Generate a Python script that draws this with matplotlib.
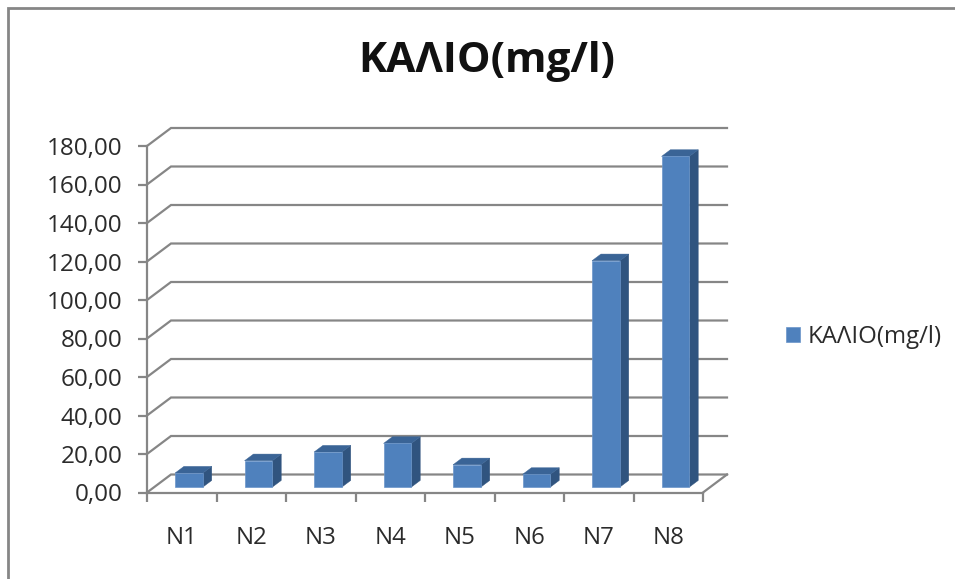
import matplotlib
matplotlib.use('Agg')
import matplotlib.pyplot as plt
from matplotlib.patches import Polygon, Patch, Rectangle

plt.rcParams['font.family'] = ['Open Sans', 'DejaVu Sans']

title = 'ΚΑΛΙΟ(mg/l)'
categories = ['N1', 'N2', 'N3', 'N4', 'N5', 'N6', 'N7', 'N8']
values = [7.3, 13.7, 18.2, 22.7, 11.6, 6.6, 117.6, 171.8]
y_ticks = [0, 20, 40, 60, 80, 100, 120, 140, 160, 180]

W, H = 955, 579
GRID = '#868686'
TEXT = '#2b2b2b'
FRONT = '#4f81bd'
EDGE = '#6b95c9'
SIDE = '#30547f'
TOP = '#3a6496'

fig = plt.figure(figsize=(W / 100, H / 100), dpi=100)

# outer chart border, runs off the right and bottom of the figure
fig.add_artist(Rectangle((7.5 / W, -0.1), 1.2, 1.1 - 8.5 / H, transform=fig.transFigure,
                         fill=False, ec=GRID, lw=2))

ax = fig.add_axes([147 / W, 1 - 492.5 / H, 556 / W, 346.5 / H])
ax.set_xlim(0, len(categories))
ax.set_ylim(0, 180)
ax.patch.set_visible(False)

# depth of the 3d box, in data units per unit of depth
depth_x = 24 / (556 / len(categories))
depth_y = 18 / (346.5 / 180)


def proj(x, y, d):
    return x + d * depth_x, y + d * depth_y


# back wall gridlines and floor
n = len(categories)
for v in y_ticks:
    p0 = proj(0, v, 0)
    p1 = proj(0, v, 1)
    p2 = proj(n, v, 1)
    ax.plot([p0[0], p1[0], p2[0]], [p0[1], p1[1], p2[1]], color=GRID, lw=1.6,
            clip_on=False, zorder=1, solid_joinstyle='miter')
p2 = proj(n, 0, 1)
ax.plot([p2[0], n], [p2[1], 0], color=GRID, lw=1.6, clip_on=False, zorder=1)

# bars, gap width 150% and roughly centred in the depth of the box
bar_w = 0.4
for i, v in enumerate(values):
    x0 = i + 0.5 - bar_w / 2
    x1 = x0 + bar_w
    d0, d1 = 0.3, 0.67
    front = [proj(x0, 0, d0), proj(x1, 0, d0), proj(x1, v, d0), proj(x0, v, d0)]
    side = [proj(x1, 0, d0), proj(x1, 0, d1), proj(x1, v, d1), proj(x1, v, d0)]
    top = [proj(x0, v, d0), proj(x1, v, d0), proj(x1, v, d1), proj(x0, v, d1)]
    ax.add_patch(Polygon(side, closed=True, fc=SIDE, ec=SIDE, lw=0.3, clip_on=False, zorder=3))
    ax.add_patch(Polygon(top, closed=True, fc=TOP, ec=TOP, lw=0.3, clip_on=False, zorder=3))
    ax.add_patch(Polygon(front, closed=True, fc=FRONT, ec=EDGE, lw=0.5, clip_on=False, zorder=4))

for s in ['top', 'right']:
    ax.spines[s].set_visible(False)
for s in ['left', 'bottom']:
    ax.spines[s].set_color(GRID)
    ax.spines[s].set_linewidth(1.6)

ax.set_yticks(y_ticks)
ax.set_yticklabels([('%.2f' % v).replace('.', ',') for v in y_ticks])
ax.tick_params(axis='y', length=6.5, width=1.6, color=GRID, labelcolor=TEXT, labelsize=17.5, pad=11)

ax.set_xticks(range(n + 1))
ax.set_xticklabels([])
ax.set_xticks([i + 0.5 for i in range(n)], minor=True)
ax.set_xticklabels(categories, minor=True)
ax.tick_params(axis='x', which='major', length=6.5, width=1.6, color=GRID)
ax.tick_params(axis='x', which='minor', length=0, labelcolor=TEXT, labelsize=17.3, pad=24)

fig.text(486.5 / W, 1 - 61 / H, title, fontsize=30.5, fontweight='bold', color='#111111',
         ha='center', va='center')

fig.legend(handles=[Patch(fc=FRONT, ec=EDGE, lw=0.5, label=title)],
           loc='center left', bbox_to_anchor=(786 / W, 1 - 337 / H), frameon=False,
           fontsize=17.3, labelcolor=TEXT, handlelength=0.58, handleheight=0.58,
           handletextpad=0.3, borderpad=0, borderaxespad=0)

fig.savefig('out.png', dpi=100)
